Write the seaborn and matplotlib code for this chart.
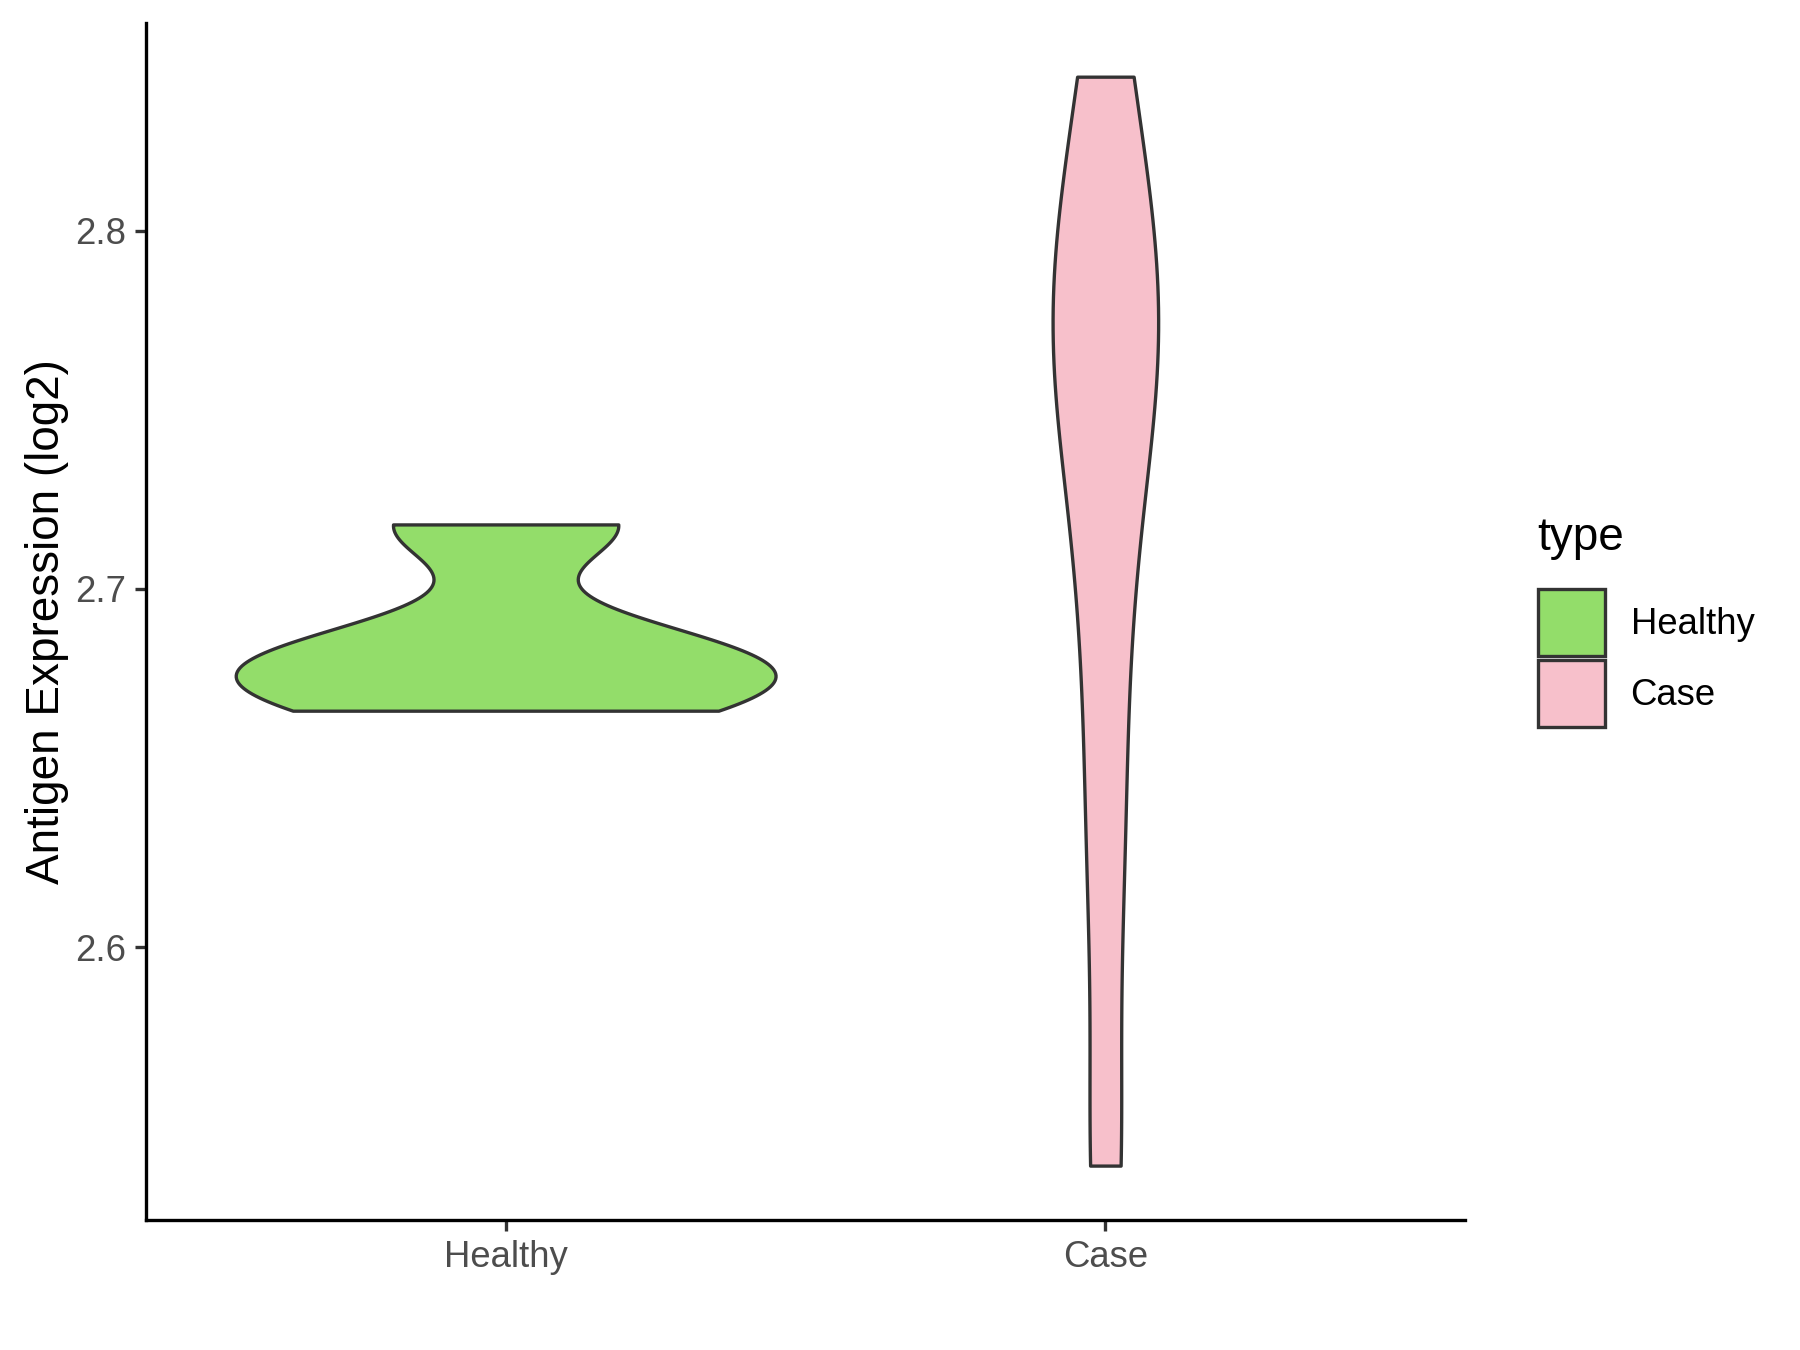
import matplotlib
matplotlib.use("Agg")
import matplotlib.pyplot as plt
import seaborn as sns
import pandas as pd

healthy_values = [2.666, 2.676, 2.684, 2.718]
case_values = [2.539, 2.625, 2.69, 2.74, 2.765, 2.78, 2.80, 2.843]
categories = ["Healthy", "Case"]
colors = ["#93DD6A", "#F7C0CB"]
y_ticks = [2.6, 2.7, 2.8]

df = pd.DataFrame({
    "type": ["Healthy"] * len(healthy_values) + ["Case"] * len(case_values),
    "value": healthy_values + case_values,
})

sns.set_style("white")
plt.rcParams["font.family"] = ["Liberation Sans", "DejaVu Sans"]
plt.rcParams["text.color"] = "black"

fig = plt.figure(figsize=(12, 9), dpi=150)
ax = fig.add_axes([0.081, 0.096, 0.733, 0.887])

styles = {"Healthy": dict(width=0.9, bw_method=0.48),
          "Case": dict(width=0.176, bw_method=0.4)}
for cat in categories:
    sub = df[df["type"] == cat]
    sns.violinplot(data=sub, x="type", y="value", hue="type", order=categories,
                   hue_order=categories, palette=colors, saturation=1, cut=0,
                   inner=None, density_norm="width", linewidth=1.6,
                   linecolor="#333333", legend=(cat == "Case"), ax=ax,
                   **styles[cat])

ax.set_xlim(-0.6, 1.6)
ax.set_ylim(2.5237, 2.858)
ax.set_yticks(y_ticks)
ax.set_yticklabels([f"{t:.1f}" for t in y_ticks])
ax.set_xlabel("")
ax.set_ylabel("Antigen Expression (log2)", fontsize=22, color="black", labelpad=3)
for s in ["top", "right"]:
    ax.spines[s].set_visible(False)
for s in ["left", "bottom"]:
    ax.spines[s].set_color("black")
    ax.spines[s].set_linewidth(1.6)
ax.tick_params(axis="both", length=5.5, width=1.6, color="#333333",
               labelsize=17.5, labelcolor="#4D4D4D", left=True, bottom=True, pad=4)

sns.move_legend(ax, loc="center left", bbox_to_anchor=(1.03, 0.5), frameon=False,
                title="type", title_fontsize=22, fontsize=17.5,
                handlelength=1.85, handleheight=2.45, handletextpad=0.7,
                labelspacing=0.1, alignment="left")
leg = ax.get_legend()
leg._legend_box.sep = 14
for t in leg.get_texts():
    t.set_color("black")
leg.get_title().set_color("black")

fig.savefig("out.png", dpi=150, facecolor="white")
